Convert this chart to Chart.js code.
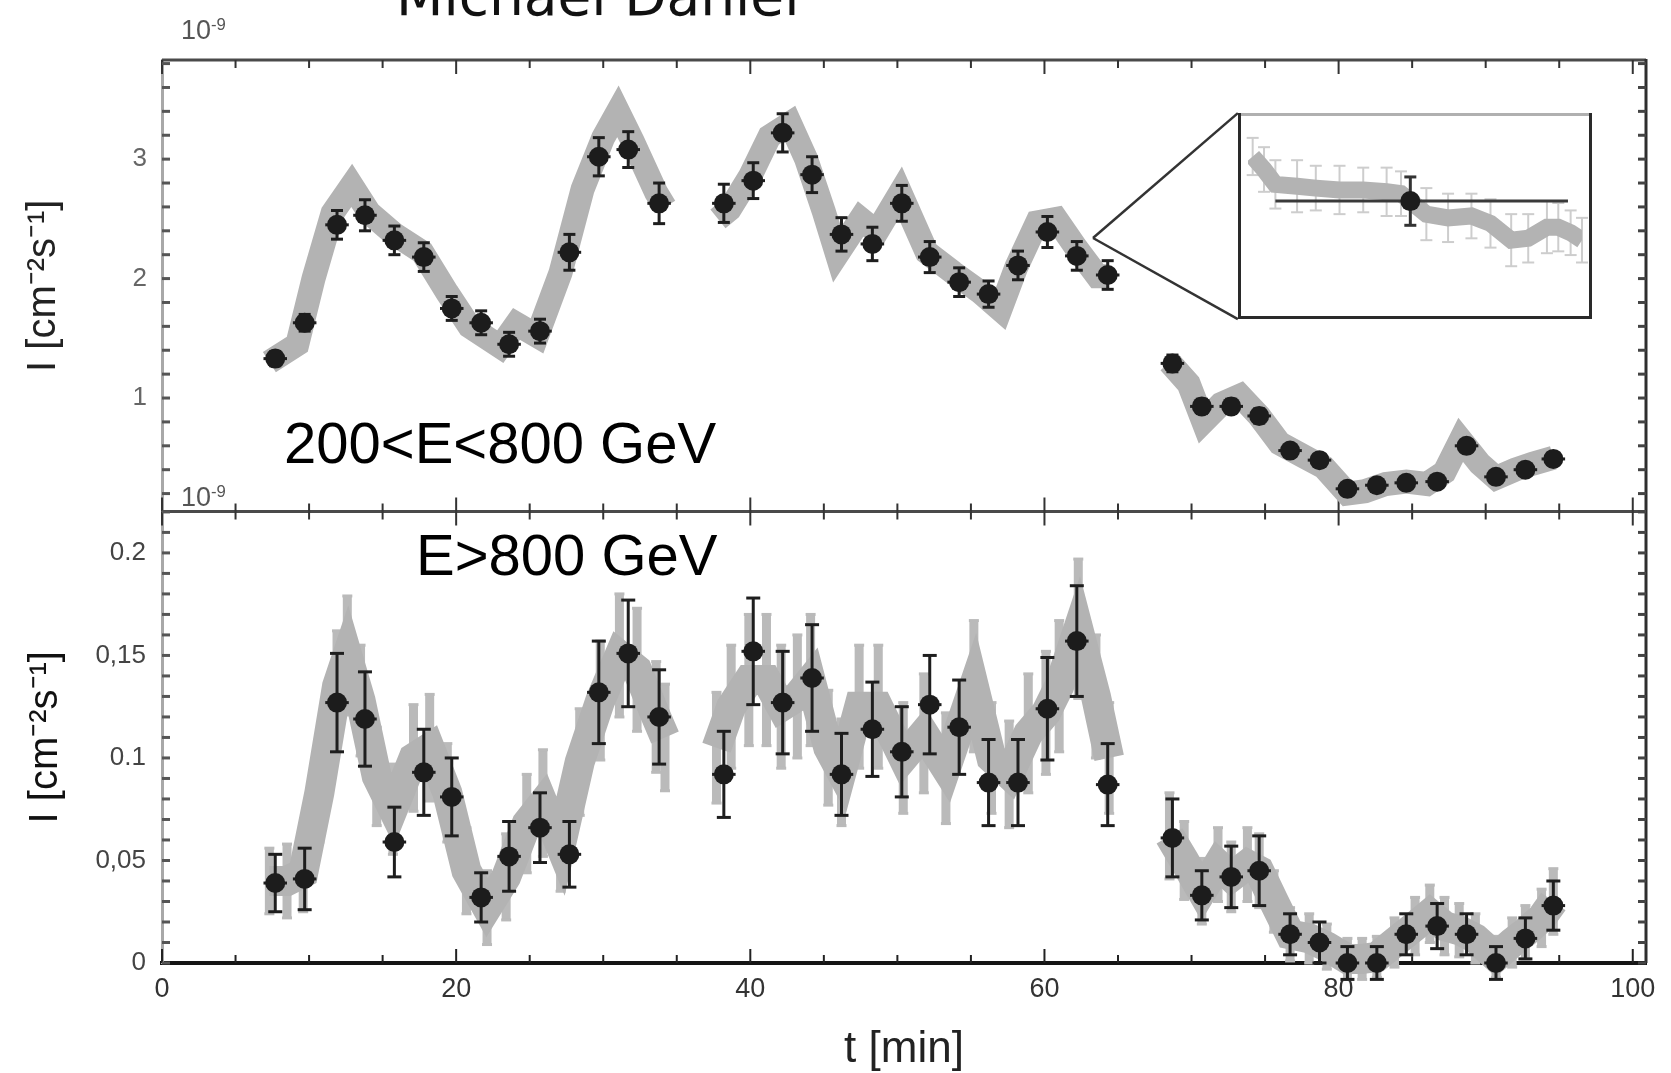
<!DOCTYPE html>
<html>
<head>
<meta charset="utf-8">
<script src="https://cdn.jsdelivr.net/npm/chart.js@4.4.0/dist/chart.umd.min.js"></script>
<style>
  html, body { margin: 0; padding: 0; background: #ffffff; overflow: hidden; }
  #wrap { position: relative; width: 1671px; height: 1073px; overflow: hidden; background: #ffffff; }
  #main { position: absolute; left: 0; top: 0; }
  #inset { position: absolute; }
  .lbl { position: absolute; white-space: nowrap; font-family: 'Liberation Sans', Arial, sans-serif; }
  .lbl sup { font-size: 0.62em; vertical-align: 0.55em; line-height: 0; }
</style>
</head>
<body>
<div id="wrap">
  <canvas id="main" width="1671" height="1073"></canvas>
  <canvas id="inset"></canvas>
  <div class="lbl" id="author" style="left:396px; top:-31px; font-family:'DejaVu Sans', sans-serif; font-size:55px; line-height:55px; color:#111;">Michael Daniel</div>
  <div class="lbl" style="left:181px; top:17px; font-size:27px; line-height:27px; color:#555;">10<sup>-9</sup></div>
  <div class="lbl" style="left:181px; top:484px; font-size:27px; line-height:27px; color:#555;">10<sup>-9</sup></div>
  <div class="lbl" style="left:284px; top:414px; font-size:58px; line-height:58px; color:#000;">200&lt;E&lt;800 GeV</div>
  <div class="lbl" style="left:416px; top:526px; font-size:58px; line-height:58px; color:#000;">E&gt;800 GeV</div>
</div>
<script>
// ---------------- data ----------------
// 2-minute bins (black points)
const binT = [7.7,9.7,11.9,13.8,15.8,17.8,19.7,21.7,23.6,25.7,27.7,29.7,31.7,33.8,
              38.2,40.2,42.2,44.2,46.2,48.3,50.3,52.2,54.2,56.2,58.2,60.2,62.2,64.3,
              68.7,70.7,72.7,74.6,76.7,78.7,80.6,82.6,84.6,86.7,88.7,90.7,92.7,94.6];
const binHalfWidth = 0.8;
// 200 < E < 800 GeV  (units of 1e-9 cm^-2 s^-1)
const upperI = [1.33,1.63,2.45,2.53,2.32,2.18,1.75,1.63,1.45,1.56,2.22,3.02,3.08,2.63,
                2.63,2.82,3.22,2.87,2.37,2.29,2.63,2.18,1.97,1.87,2.11,2.39,2.19,2.03,
                1.29,0.93,0.93,0.85,0.56,0.48,0.24,0.27,0.29,0.30,0.60,0.34,0.40,0.49];
const upperErr = [0.06,0.07,0.12,0.13,0.12,0.12,0.10,0.10,0.10,0.10,0.15,0.16,0.15,0.17,
                  0.16,0.15,0.16,0.15,0.14,0.14,0.15,0.13,0.12,0.11,0.12,0.13,0.12,0.12,
                  0.07,0.06,0.06,0.06,0.05,0.05,0.04,0.04,0.04,0.04,0.05,0.04,0.04,0.05];
// E > 800 GeV
const lowerI = [0.039,0.041,0.127,0.119,0.059,0.093,0.081,0.032,0.052,0.066,0.053,0.132,0.151,0.120,
                0.092,0.152,0.127,0.139,0.092,0.114,0.103,0.126,0.115,0.088,0.088,0.124,0.157,0.087,
                0.061,0.033,0.042,0.045,0.014,0.010,0.000,0.000,0.014,0.018,0.014,0.000,0.012,0.028];
const lowerErr = [0.014,0.015,0.024,0.023,0.017,0.021,0.019,0.012,0.017,0.017,0.016,0.025,0.026,0.023,
                  0.021,0.026,0.025,0.026,0.020,0.023,0.022,0.024,0.023,0.021,0.021,0.025,0.027,0.020,
                  0.019,0.012,0.015,0.017,0.010,0.010,0.008,0.008,0.010,0.011,0.010,0.008,0.010,0.012];

// finely binned light curves (grey band), null = observation gap
const upperGrayT = [7.3,9.2,10.3,11.6,12.9,14.1,15.7,17.7,19.4,20.9,23.0,24.1,25.5,27.1,28.6,30.0,31.0,32.0,33.6,34.2,
                    36.0,
                    37.8,38.6,40.0,41.3,42.7,43.8,45.0,45.9,47.5,48.6,50.2,52.0,53.8,55.6,57.0,58.1,59.5,60.8,62.2,63.6,64.4,
                    66.5,
                    68.5,69.8,70.8,72.0,73.3,74.6,76.0,77.5,79.0,80.6,81.8,83.2,84.6,86.0,87.2,88.3,89.6,90.7,92.0,93.2,94.6];
const upperGrayI = [1.30,1.45,2.00,2.55,2.78,2.55,2.38,2.22,1.88,1.60,1.43,1.62,1.52,2.05,2.75,3.18,3.40,3.15,2.72,2.60,
                    null,
                    2.50,2.58,2.86,3.19,3.30,3.00,2.56,2.20,2.50,2.39,2.72,2.22,2.05,1.89,1.74,2.10,2.47,2.50,2.25,2.02,2.02,
                    null,
                    1.30,1.12,0.80,0.95,1.02,0.85,0.62,0.52,0.42,0.20,0.22,0.28,0.30,0.28,0.38,0.65,0.45,0.33,0.40,0.45,0.50];
const lowerGrayT = [7.3,8.5,9.6,10.7,11.9,12.6,13.5,14.6,15.7,17.1,18.2,19.4,20.7,22.1,23.4,24.8,25.9,27.1,28.4,29.8,31.1,32.3,33.6,34.2,
                    36.0,
                    37.7,38.7,39.9,41.1,42.1,43.2,44.1,45.3,46.2,47.4,48.7,50.4,51.8,53.3,55.2,56.4,57.6,58.9,60.1,61.0,62.3,63.5,64.4,
                    66.5,
                    68.5,69.5,70.7,71.8,72.7,73.8,74.6,75.6,76.7,78.0,79.2,80.6,81.6,82.6,83.8,85.2,86.2,87.2,88.2,89.3,90.7,91.8,92.7,93.8,94.6];
const lowerGrayI = [0.040,0.040,0.044,0.083,0.135,0.150,0.128,0.091,0.075,0.100,0.105,0.083,0.045,0.027,0.042,0.068,0.078,0.057,0.098,0.128,0.150,0.143,0.120,0.110,
                    null,
                    0.105,0.125,0.138,0.138,0.125,0.130,0.138,0.105,0.093,0.125,0.125,0.100,0.112,0.095,0.135,0.100,0.092,0.112,0.122,0.135,0.163,0.130,0.100,
                    null,
                    0.062,0.050,0.035,0.048,0.042,0.048,0.045,0.030,0.014,0.012,0.008,0.002,0.002,0.003,0.010,0.018,0.024,0.018,0.016,0.012,0.003,0.010,0.015,0.022,0.030];
const lowerGrayErr = [0.016,0.018,0.019,0.024,0.027,0.029,0.027,0.024,0.022,0.026,0.026,0.024,0.021,0.018,0.021,0.024,0.026,0.022,0.026,0.029,0.030,0.030,0.027,0.026,
                      null,
                      0.027,0.030,0.032,0.032,0.030,0.030,0.032,0.028,0.026,0.030,0.030,0.027,0.029,0.027,0.032,0.027,0.026,0.029,0.030,0.032,0.034,0.030,0.027,
                      null,
                      0.021,0.019,0.016,0.018,0.017,0.018,0.018,0.015,0.013,0.012,0.011,0.010,0.010,0.010,0.012,0.014,0.014,0.014,0.013,0.012,0.010,0.012,0.013,0.014,0.016];

// inset: zoom into one 2-minute bin (x in % of the shown window)
const insetT = [1.4,4.8,8.2,14.7,20.3,27.4,34.5,41.5,45.8,53.4,59.9,66.9,72.6,78.8,83.9,89.5,92.9,96.6,100];
const insetI = [2.64,2.57,2.49,2.48,2.47,2.46,2.46,2.45,2.44,2.33,2.31,2.32,2.28,2.19,2.20,2.26,2.26,2.23,2.19];
const insetErr = [0.10,0.12,0.13,0.14,0.12,0.13,0.12,0.13,0.12,0.14,0.13,0.12,0.13,0.14,0.13,0.14,0.13,0.12,0.12];
const insetBinT = [48.6];
const insetBinI = [2.40];
const insetBinErr = [0.13];
const insetBinRange = [8.2, 95.8];
const insetAnchor = [63.3, 2.34];          // (t, I) where the zoom lines start
const insetBoxT = [73.15, 97.2];           // inset placement in data units
const insetBoxI = [1.66, 3.385];

// axis ticks
const xTicks = [0,5,10,15,20,25,30,35,40,45,50,55,60,65,70,75,80,85,90,95,100];
const xLabels = [0,20,40,60,80,100];
const upperTicks = [0.2,0.4,0.6,0.8,1,1.2,1.4,1.6,1.8,2,2.2,2.4,2.6,2.8,3,3.2,3.4,3.6,3.8];
const upperLabels = [1,2,3];
const lowerTicks = [0,0.01,0.02,0.03,0.04,0.05,0.06,0.07,0.08,0.09,0.1,0.11,0.12,0.13,0.14,0.15,0.16,0.17,0.18,0.19,0.2,0.21,0.22];
const lowerLabelValues = [0,0.05,0.1,0.15,0.2];
const lowerLabelTexts = ['0','0,05','0.1','0,15','0.2'];

// ---------------- chart ----------------
const F = "'Liberation Sans', Arial, sans-serif";
const near = (a, b) => Math.abs(a - b) < 1e-6;
const pts = (ts, vs) => ts.map((t, i) => ({ x: t, y: vs[i] }));

function seg(ctx, x1, y1, x2, y2, color, w) {
  ctx.strokeStyle = color; ctx.lineWidth = w;
  ctx.beginPath(); ctx.moveTo(x1, y1); ctx.lineTo(x2, y2); ctx.stroke();
}

function drawErrors(ctx, xs, ys, ts, vs, es, hx, color, w, cap) {
  ctx.save();
  ctx.lineCap = 'butt';
  for (let i = 0; i < ts.length; i++) {
    if (vs[i] === null || es[i] === null) continue;
    const px = xs.getPixelForValue(ts[i]);
    const y0 = ys.getPixelForValue(vs[i] - es[i]);
    const y1 = ys.getPixelForValue(vs[i] + es[i]);
    const py = ys.getPixelForValue(vs[i]);
    seg(ctx, px, y0, px, y1, color, w);
    if (cap > 0) {
      seg(ctx, px - cap, y0, px + cap, y0, color, Math.min(w, 3));
      seg(ctx, px - cap, y1, px + cap, y1, color, Math.min(w, 3));
    }
    if (hx) {
      seg(ctx, xs.getPixelForValue(ts[i] - hx), py, xs.getPixelForValue(ts[i] + hx), py, color, 3);
    }
  }
  ctx.restore();
}

const mainPlugin = {
  id: 'mainDecor',
  beforeDatasetsDraw(chart) {
    const { ctx, chartArea: a, scales } = chart;
    const x = scales.x, yU = scales.yU, yL = scales.yL;
    const mid = yU.bottom;
    ctx.save();
    seg(ctx, a.left, a.top, a.right, a.top, '#4a4a4a', 3);
    seg(ctx, a.right, a.top - 1, a.right, a.bottom, '#2e2e2e', 3);
    seg(ctx, a.left, mid, a.right, mid, '#4a4a4a', 3);
    xTicks.forEach(v => {
      const px = x.getPixelForValue(v);
      const L = xLabels.includes(v) ? 14 : 8;
      seg(ctx, px, a.top, px, a.top + L, '#333', 2);
      seg(ctx, px, mid, px, mid - L, '#333', 2);
      seg(ctx, px, mid, px, mid + L, '#333', 2);
      seg(ctx, px, a.bottom, px, a.bottom - L, '#222', 2);
    });
    upperTicks.forEach(v => {
      const py = yU.getPixelForValue(v);
      seg(ctx, a.left, py, a.left + 8, py, '#555', 3);
      seg(ctx, a.right, py, a.right - 8, py, '#444', 3);
    });
    lowerTicks.forEach(v => {
      const py = yL.getPixelForValue(v);
      seg(ctx, a.left, py, a.left + 8, py, '#555', 3);
      seg(ctx, a.right, py, a.right - 8, py, '#444', 3);
    });
    // zoom lines to the inset
    const ax = x.getPixelForValue(insetAnchor[0]), ay = yU.getPixelForValue(insetAnchor[1]);
    const bx = x.getPixelForValue(insetBoxT[0]);
    const by0 = yU.getPixelForValue(insetBoxI[1]), by1 = yU.getPixelForValue(insetBoxI[0]);
    seg(ctx, ax, ay, bx, by0, '#333', 2.5);
    seg(ctx, ax, ay, bx, by1, '#333', 2.5);
    ctx.restore();
  },
  beforeDatasetDraw(chart, args) {
    const { ctx, scales } = chart;
    if (args.index === 0) drawErrors(ctx, scales.x, scales.yU, binT, upperI, upperErr, binHalfWidth, '#1e1e1e', 3, 6);
    if (args.index === 1) drawErrors(ctx, scales.x, scales.yL, binT, lowerI, lowerErr, binHalfWidth, '#1e1e1e', 3, 7);
    if (args.index === 3) drawErrors(ctx, scales.x, scales.yL, lowerGrayT, lowerGrayI, lowerGrayErr, 0, '#bababa', 9, 5);
  }
};

const yCommon = {
  type: 'linear',
  position: 'left',
  stack: 'panels',
  stackWeight: 1,
  grid: { display: false, drawTicks: false },
  afterFit: s => { s.width = 162; }
};

const mainChart = new Chart(document.getElementById('main'), {
  type: 'line',
  data: {
    datasets: [
      { label: '200<E<800 GeV, 2 min', data: pts(binT, upperI), yAxisID: 'yU', showLine: false,
        pointRadius: 10, pointBackgroundColor: '#1c1c1c', pointBorderWidth: 0, order: 1, clip: false },
      { label: 'E>800 GeV, 2 min', data: pts(binT, lowerI), yAxisID: 'yL', showLine: false,
        pointRadius: 10, pointBackgroundColor: '#1c1c1c', pointBorderWidth: 0, order: 1, clip: false },
      { label: '200<E<800 GeV, fine', data: pts(upperGrayT, upperGrayI), yAxisID: 'yU',
        borderColor: '#b3b3b3', borderWidth: 24, pointRadius: 0, borderJoinStyle: 'miter',
        tension: 0, spanGaps: false, order: 2, clip: false },
      { label: 'E>800 GeV, fine', data: pts(lowerGrayT, lowerGrayI), yAxisID: 'yL',
        borderColor: '#b3b3b3', borderWidth: 30, pointRadius: 0, borderJoinStyle: 'miter',
        tension: 0, spanGaps: false, order: 2, clip: false }
    ]
  },
  options: {
    responsive: false,
    animation: false,
    devicePixelRatio: 1,
    events: [],
    layout: { padding: { left: 0, top: 60, right: 25, bottom: 0 } },
    plugins: { legend: { display: false }, tooltip: { enabled: false } },
    scales: {
      x: {
        type: 'linear', min: 0, max: 100.9,
        afterBuildTicks: s => { s.ticks = xTicks.map(v => ({ value: v })); },
        afterFit: s => { s.height = 110; },
        grid: { display: false, drawTicks: false },
        border: { display: true, color: '#151515', width: 4 },
        ticks: { autoSkip: false, maxRotation: 0, padding: 10, color: '#333',
                 font: { family: F, size: 27 },
                 callback: v => xLabels.some(l => near(l, v)) ? String(v) : '' },
        title: { display: true, text: 't [min]', color: '#222',
                 font: { family: F, size: 44, lineHeight: 1 }, padding: { top: 0, bottom: 1 } }
      },
      yL: Object.assign({}, yCommon, {
        min: 0, max: 0.2202,
        afterBuildTicks: s => { s.ticks = lowerTicks.map(v => ({ value: v })); },
        border: { display: true, color: '#a8a8a8', width: 3 },
        ticks: { autoSkip: false, padding: 16, color: '#444', font: { family: F, size: 26 },
                 callback: v => { const k = lowerLabelValues.findIndex(l => near(l, v)); return k >= 0 ? lowerLabelTexts[k] : ''; } },
        title: { display: true, text: 'I [cm⁻²s⁻¹]', color: '#111',
                 font: { family: F, size: 40, lineHeight: 1 }, padding: { top: 26, bottom: 0 } }
      }),
      yU: Object.assign({}, yCommon, {
        min: 0.05, max: 3.83,
        afterBuildTicks: s => { s.ticks = upperTicks.map(v => ({ value: v })); },
        border: { display: true, color: '#a8a8a8', width: 3 },
        ticks: { autoSkip: false, padding: 15, color: '#666', font: { family: F, size: 26 },
                 callback: v => upperLabels.some(l => near(l, v)) ? String(v) : '' },
        title: { display: true, text: 'I [cm⁻²s⁻¹]', color: '#222',
                 font: { family: F, size: 40, lineHeight: 1 }, padding: { top: 24, bottom: 0 } }
      })
    }
  },
  plugins: [mainPlugin]
});

// ---------------- inset ----------------
(function () {
  const xs = mainChart.scales.x, ys = mainChart.scales.yU;
  const L = Math.round(xs.getPixelForValue(insetBoxT[0]));
  const R = Math.round(xs.getPixelForValue(insetBoxT[1]));
  const T = Math.round(ys.getPixelForValue(insetBoxI[1]));
  const B = Math.round(ys.getPixelForValue(insetBoxI[0]));
  const cv = document.getElementById('inset');
  cv.style.left = L + 'px'; cv.style.top = T + 'px';
  cv.width = R - L; cv.height = B - T;

  const insetPlugin = {
    id: 'insetDecor',
    beforeDraw(chart) {
      const c = chart.ctx; c.save(); c.fillStyle = '#ffffff'; c.fillRect(0, 0, chart.width, chart.height); c.restore();
    },
    beforeDatasetDraw(chart, args) {
      const { ctx, scales } = chart;
      if (args.index === 1) drawErrors(ctx, scales.x, scales.y, insetT, insetI, insetErr, 0, '#cdcdcd', 2, 6);
      if (args.index === 0) {
        ctx.save();
        const py = scales.y.getPixelForValue(insetBinI[0]);
        seg(ctx, scales.x.getPixelForValue(insetBinRange[0]), py, scales.x.getPixelForValue(insetBinRange[1]), py, '#3a3a3a', 3);
        ctx.restore();
        drawErrors(ctx, scales.x, scales.y, insetBinT, insetBinI, insetBinErr, 0, '#333', 3, 6);
      }
    },
    afterDraw(chart) {
      const c = chart.ctx, w = chart.width, h = chart.height;
      c.save();
      seg(c, 0, 1.5, w, 1.5, '#b0b0b0', 3);
      seg(c, 1.5, 0, 1.5, h, '#2a2a2a', 3);
      seg(c, w - 1.5, 0, w - 1.5, h, '#2a2a2a', 3);
      seg(c, 0, h - 1.5, w, h - 1.5, '#2a2a2a', 3);
      c.restore();
    }
  };

  new Chart(cv, {
    type: 'line',
    data: {
      datasets: [
        { label: 'bin', data: pts(insetBinT, insetBinI), showLine: false, pointRadius: 10,
          pointBackgroundColor: '#1c1c1c', pointBorderWidth: 0, order: 1 },
        { label: 'fine', data: pts(insetT, insetI), borderColor: '#b3b3b3', borderWidth: 17,
          pointRadius: 0, tension: 0, borderJoinStyle: 'miter', order: 2 }
      ]
    },
    options: {
      responsive: false, animation: false, devicePixelRatio: 1, events: [],
      layout: { padding: 0 },
      plugins: { legend: { display: false }, tooltip: { enabled: false } },
      scales: {
        x: { type: 'linear', min: 0, max: 100, display: false },
        y: { type: 'linear', min: 1.82, max: 2.82, display: false }
      }
    },
    plugins: [insetPlugin]
  });
})();
</script>
</body>
</html>
